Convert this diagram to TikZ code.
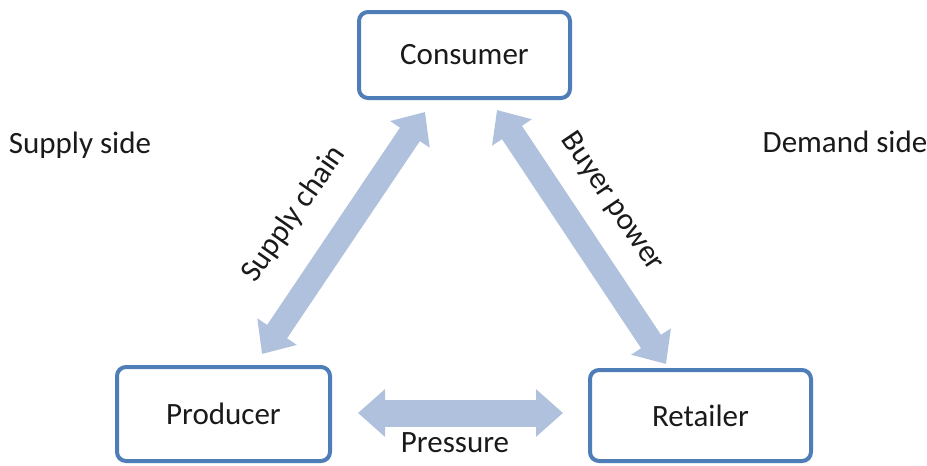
\documentclass[tikz,border=0pt]{standalone}
\usepackage{fontspec}
\setmainfont{Carlito}
\usetikzlibrary{arrows.meta,shadows}
\definecolor{boxline}{HTML}{4F7DB8}
\definecolor{flow}{HTML}{B0C1DD}
\definecolor{ink}{HTML}{1A1A1A}
\tikzset{
  actor/.style={draw=boxline, line width=4pt, rounded corners=9pt, fill=white,
    text=ink, inner sep=0pt,
    drop shadow={opacity=0.18, shadow xshift=1pt, shadow yshift=-2pt}},
  lbl/.style={text=ink, inner sep=0pt},
  flowarrow/.style={draw=flow, line width=#1,
    {Triangle[width=46pt,length=27pt]}-{Triangle[width=46pt,length=27pt]}},
}
\begin{document}
\begin{tikzpicture}[x=1pt,y=-1pt,font=\fontsize{31}{36}\selectfont]
\useasboundingbox (0,0) rectangle (927,466);

% the three market actors
\node[actor, minimum width=211pt, minimum height=86pt] (consumer) at (464.5,55) {Consumer};
\node[actor, minimum width=213pt, minimum height=94pt] (producer) at (223.5,414) {Producer};
\node[actor, minimum width=221pt, minimum height=91pt] (retailer) at (700.5,415.5) {Retailer};

% arrow end points just off the boxes
\coordinate (scTop) at (425,112);
\coordinate (scBot) at (262,354);
\coordinate (bpTop) at (497,110);
\coordinate (bpBot) at (666,364);
\coordinate (prL) at (358,413);
\coordinate (prR) at (563,413);

% two-way relations
\draw[flowarrow=24pt] (scBot) -- (scTop);
\draw[flowarrow=24pt] (bpTop) -- (bpBot);
\draw[flowarrow=27pt] (prL) -- (prR);

% relation labels
\node[lbl, rotate=55] (sclabel) at (294,214) {Supply chain};
\node[lbl, rotate=-56] (bplabel) at (612,202) {Buyer power};
\node[lbl] (prlabel) at (455,443) {Pressure};

% side captions
\node[lbl] (supply) at (80,145) {Supply side};
\node[lbl] (demand) at (845,142) {Demand side};
\end{tikzpicture}
\end{document}
